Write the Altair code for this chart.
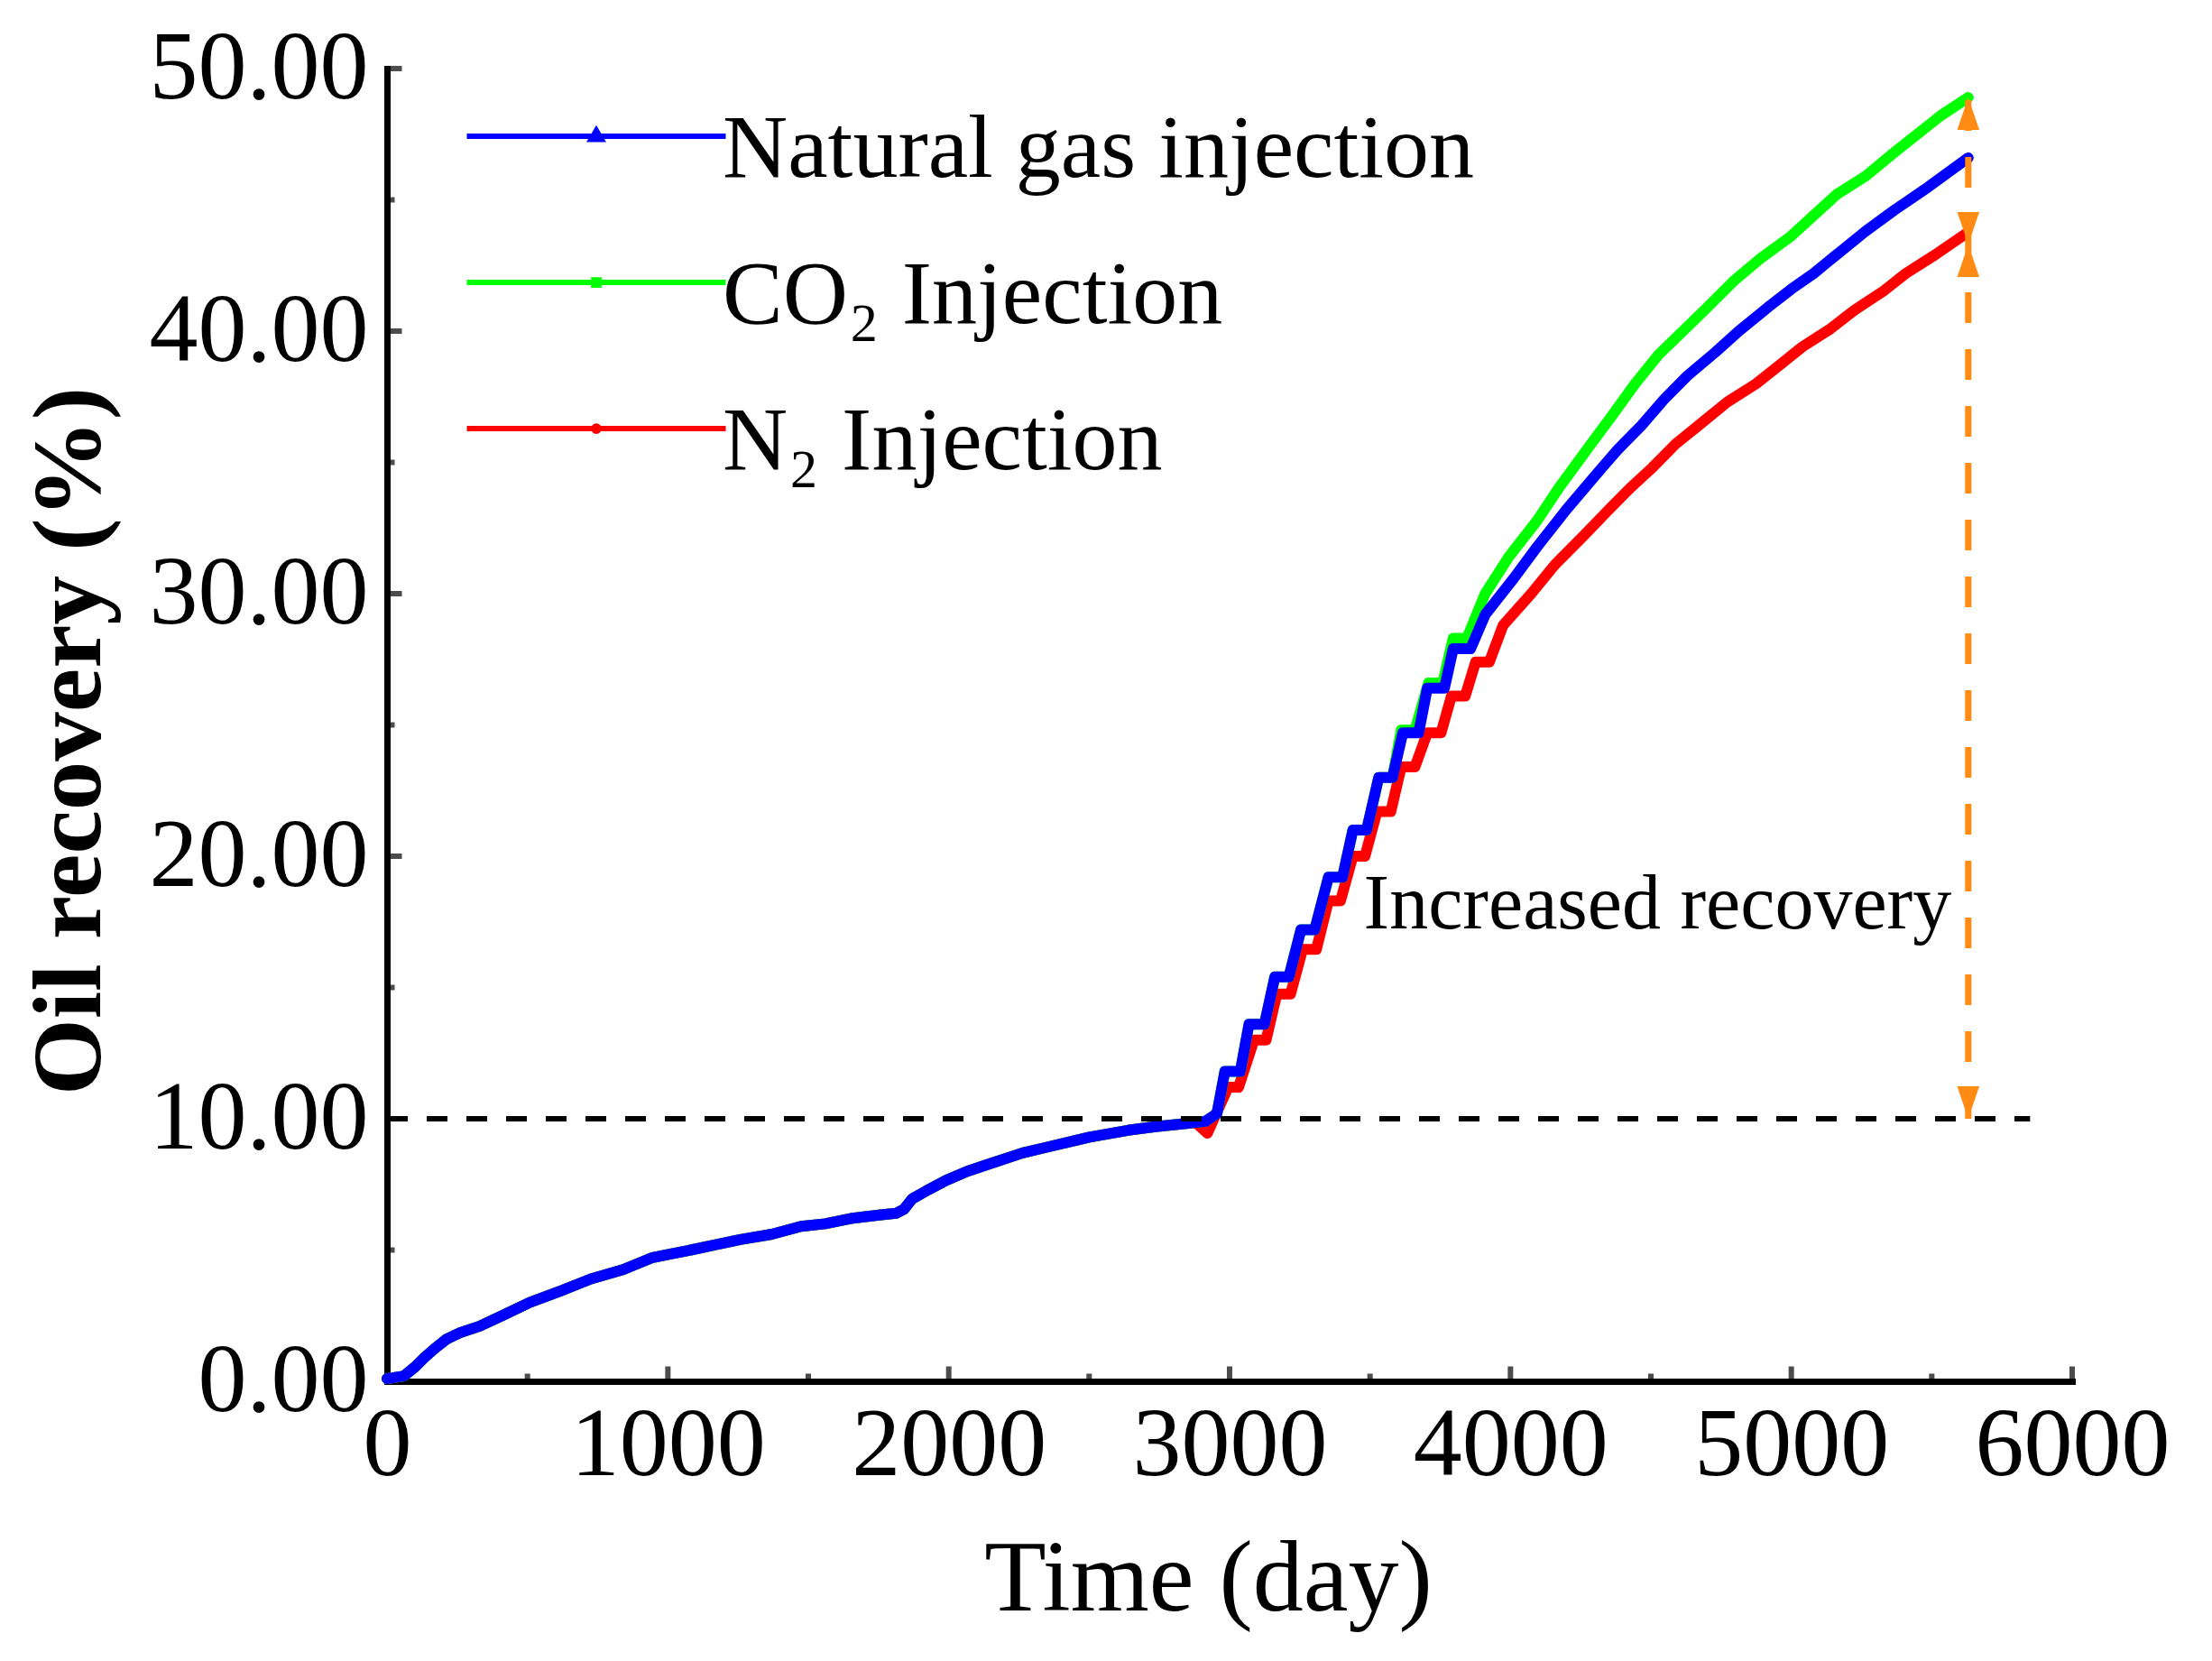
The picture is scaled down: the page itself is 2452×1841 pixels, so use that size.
import altair as alt
import pandas as pd

SERIF = "Liberation Serif"
ORANGE = "#ff8a14"

# ---------------- data ----------------
series_names = ["Natural gas injection", "CO\u2082 Injection", "N\u2082 Injection"]
series_colors = ["#0000ff", "#00ff00", "#ff0000"]

# primary-recovery part (identical for the three cases)
early_days = [0, 60, 100, 133, 170, 211, 260, 330, 420, 508, 620, 726, 840, 942,
              1010, 1081, 1170, 1258, 1370, 1474, 1560, 1651, 1751, 1812, 1840,
              1870, 1928, 1990, 2066, 2145, 2263, 2343, 2501, 2638, 2736, 2830]
early_vals = [0.1, 0.2, 0.55, 0.9, 1.25, 1.6, 1.85, 2.1, 2.55, 3.0, 3.45, 3.9, 4.25, 4.7,
              4.85, 5.0, 5.2, 5.4, 5.6, 5.9, 6.0, 6.2, 6.33, 6.4, 6.55,
              6.95, 7.3, 7.65, 8.0, 8.28, 8.7, 8.9, 9.3, 9.56, 9.7, 9.8]

gas_days = [2913, 2955, 2983, 3038, 3069, 3124, 3161, 3211, 3254, 3303, 3352, 3402,
            3439, 3488, 3531, 3580, 3617, 3673, 3704, 3765, 3796, 3858, 3910, 4013,
            4096, 4199, 4302, 4383, 4466, 4547, 4630, 4730, 4813, 4916, 5000, 5080,
            5183, 5264, 5366, 5489, 5630]
gas_vals = [9.9, 10.2, 11.8, 11.8, 13.6, 13.6, 15.4, 15.4, 17.2, 17.2, 19.2, 19.2,
            21.0, 21.0, 23.0, 23.0, 24.7, 24.7, 26.4, 26.4, 27.9, 27.9, 29.2, 30.6,
            31.8, 33.2, 34.5, 35.5, 36.4, 37.4, 38.3, 39.2, 40.0, 40.9, 41.6, 42.2,
            43.1, 43.8, 44.6, 45.5, 46.6]

co2_days = [2913, 2955, 2983, 3038, 3069, 3124, 3161, 3211, 3254, 3303, 3352, 3402,
            3439, 3488, 3531, 3580, 3611, 3660, 3708, 3759, 3796, 3845, 3910, 3994,
            4096, 4177, 4280, 4363, 4444, 4527, 4691, 4794, 4894, 4997, 5161, 5264,
            5366, 5531, 5630]
co2_vals = [9.9, 10.2, 11.8, 11.8, 13.6, 13.6, 15.4, 15.4, 17.2, 17.2, 19.2, 19.2,
            21.0, 21.0, 23.0, 23.0, 24.8, 24.8, 26.6, 26.6, 28.3, 28.3, 30.0, 31.4,
            32.8, 34.1, 35.6, 36.8, 38.0, 39.1, 40.8, 41.9, 42.8, 43.6, 45.2, 45.9,
            46.8, 48.2, 48.9]

n2_days = [2880, 2921, 2995, 3032, 3087, 3130, 3168, 3217, 3260, 3309, 3352, 3395,
           3439, 3482, 3525, 3574, 3611, 3660, 3704, 3753, 3790, 3839, 3876, 3925,
           3974, 4074, 4158, 4260, 4341, 4424, 4505, 4588, 4669, 4772, 4875, 4958,
           5039, 5141, 5225, 5325, 5408, 5511, 5620]
n2_vals = [9.85, 9.45, 11.2, 11.2, 13.0, 13.0, 14.75, 14.75, 16.45, 16.45, 18.3, 18.3,
           20.0, 20.0, 21.7, 21.7, 23.4, 23.4, 24.7, 24.7, 26.1, 26.1, 27.4, 27.4,
           28.8, 30.0, 31.1, 32.2, 33.1, 34.0, 34.8, 35.7, 36.4, 37.3, 38.0, 38.7,
           39.4, 40.1, 40.8, 41.5, 42.2, 42.9, 43.7]

x_major = [0, 1000, 2000, 3000, 4000, 5000, 6000]
x_minor = [500, 1500, 2500, 3500, 4500, 5500]
y_major = [0, 10, 20, 30, 40, 50]
y_minor = [5, 15, 25, 35, 45]

ref_level = [10]
ref_start = [0]
ref_end = [5850]

arrow_day = 5630
arrow_low = [10, 43.3]
arrow_high = [43.3, 48.9]
head_up_tips = [43.3, 48.9]
head_down_tips = [10, 43.3]

note_text = ["Increased recovery"]
note_day = [3477]
note_val = [17.25]

# ---------------- tables ----------------
rows = []
for name, d_tail, v_tail in [(series_names[0], gas_days, gas_vals),
                             (series_names[1], co2_days, co2_vals),
                             (series_names[2], n2_days, n2_vals)]:
    days = early_days + d_tail
    vals = early_vals + v_tail
    for i, (d, v) in enumerate(zip(days, vals)):
        rows.append({"series": name, "day": d, "rec": v, "i": i})
curves = pd.DataFrame(rows)

xt_major = pd.DataFrame({"t": x_major, "base": [0] * len(x_major)})
xt_minor = pd.DataFrame({"t": x_minor, "base": [0] * len(x_minor)})
yt_major = pd.DataFrame({"t": y_major, "base": [0] * len(y_major)})
yt_minor = pd.DataFrame({"t": y_minor, "base": [0] * len(y_minor)})
ref_df = pd.DataFrame({"x0": ref_start, "x1": ref_end, "level": ref_level})
arrow_df = pd.DataFrame({"x": [arrow_day] * 2, "y0": arrow_low, "y1": arrow_high})
up_df = pd.DataFrame({"x": [arrow_day] * len(head_up_tips), "y": head_up_tips})
down_df = pd.DataFrame({"x": [arrow_day] * len(head_down_tips), "y": head_down_tips})
note_df = pd.DataFrame({"label": note_text, "x": note_day, "y": note_val})

# ---------------- scales / axes ----------------
xscale = alt.Scale(domain=[0, 6000], nice=False, zero=False)
yscale = alt.Scale(domain=[0, 50], nice=False, zero=False)

xaxis = alt.Axis(values=x_major, format="d", ticks=False, grid=False,
                 domainColor="black", domainWidth=7, domainCap="square",
                 labelFont=SERIF, labelFontSize=108, labelColor="black", labelLimit=0,
                 labelPadding=18, labelFlush=False, labelOverlap=False,
                 title="Time (day)", titleFont=SERIF, titleFontSize=112,
                 titleFontWeight="normal", titleColor="black", titlePadding=40,
                 titleX=910, titleLimit=0)
yaxis = alt.Axis(values=y_major, format=".2f", ticks=False, grid=False,
                 domainColor="black", domainWidth=7, domainCap="square",
                 labelFont=SERIF, labelFontSize=108, labelColor="black", labelLimit=0,
                 labelPadding=21, labelOverlap=False,
                 title="Oil recovery (%)", titleFont=SERIF, titleFontSize=109,
                 titleFontWeight="bold", titleColor="black",
                 titleX=-296, titleY=745, titleLimit=0)


def X(f):
    return alt.X(f, type="quantitative", scale=xscale, axis=xaxis)


def Y(f):
    return alt.Y(f, type="quantitative", scale=yscale, axis=yaxis)


# legend symbols: a line with a small marker in its middle
LINE = "M-5,-0.52H5"
legend_shapes = [
    LINE + "M-0.2,-0.4L0.2,-0.4L0,-0.74Z",
    LINE + "M-0.1,-0.62H0.1V-0.42H-0.1Z",
    LINE + "M-0.1,-0.52A0.1,0.1,0,1,0,0.1,-0.52A0.1,0.1,0,1,0,-0.1,-0.52Z",
]

legend = alt.Legend(title=None, orient="none", legendX=182, legendY=40,
                    symbolType=LINE, symbolSize=3295, symbolStrokeWidth=6,
                    symbolOpacity=1,
                    labelFont=SERIF, labelFontSize=100, labelColor="black", labelLimit=0,
                    labelOffset=90, rowPadding=62, padding=0)

color_enc = alt.Color("series:N", scale=alt.Scale(domain=series_names, range=series_colors),
                      legend=legend)
shape_enc = alt.Shape("series:N", scale=alt.Scale(domain=series_names, range=legend_shapes),
                      legend=legend)

# ---------------- layers ----------------
tick_x_major = alt.Chart(xt_major).mark_tick(orient="vertical", size=17, thickness=6,
                                             color="black", yOffset=-8).encode(x=X("t"), y=Y("base"))
tick_x_minor = alt.Chart(xt_minor).mark_tick(orient="vertical", size=9, thickness=6,
                                             color="black", yOffset=-4).encode(x=X("t"), y=Y("base"))
tick_y_major = alt.Chart(yt_major).mark_tick(orient="horizontal", size=17, thickness=6,
                                             color="black", xOffset=8).encode(x=X("base"), y=Y("t"))
tick_y_minor = alt.Chart(yt_minor).mark_tick(orient="horizontal", size=9, thickness=6,
                                             color="black", xOffset=4).encode(x=X("base"), y=Y("t"))


def series_layer(name):
    return (alt.Chart(curves)
            .transform_filter(alt.datum.series == name)
            .mark_line(strokeWidth=12, strokeJoin="round", strokeCap="round")
            .encode(x=X("day"), y=Y("rec"), color=color_enc, order="i:Q"))


# invisible points that only carry the marker shapes into the legend
legend_carrier = (alt.Chart(curves).mark_point(opacity=0, strokeOpacity=0, fillOpacity=0)
                  .encode(x=X("day"), y=Y("rec"), color=color_enc, shape=shape_enc))

ref_line = alt.Chart(ref_df).mark_rule(color="black", strokeWidth=6, strokeDash=[23, 21]).encode(
    x=X("x0"), x2="x1", y=Y("level"))

arrow_lines = alt.Chart(arrow_df).mark_rule(color=ORANGE, strokeWidth=7, strokeDash=[34, 29]).encode(
    x=X("x"), y=Y("y0"), y2="y1")

heads_up = alt.Chart(up_df).mark_point(shape="M0,-1L0.68,1L-0.68,1Z", size=1300, filled=True,
                                       color=ORANGE, opacity=1, strokeWidth=0,
                                       yOffset=18).encode(x=X("x"), y=Y("y"))
heads_down = alt.Chart(down_df).mark_point(shape="M0,1L0.68,-1L-0.68,-1Z", size=1300, filled=True,
                                           color=ORANGE, opacity=1, strokeWidth=0,
                                           yOffset=-18).encode(x=X("x"), y=Y("y"))

note = alt.Chart(note_df).mark_text(align="left", baseline="alphabetic", font=SERIF,
                                    fontSize=86, color="black").encode(
    x=X("x"), y=Y("y"), text="label:N")

chart = alt.layer(
    tick_x_major, tick_x_minor, tick_y_major, tick_y_minor,
    series_layer(series_names[2]), series_layer(series_names[1]), series_layer(series_names[0]),
    legend_carrier,
    ref_line, arrow_lines, heads_up, heads_down, note
).properties(
    width=1868, height=1455,
    padding={"left": 15, "top": 14, "right": 5, "bottom": 5}
).configure(background="white").configure_view(stroke="transparent", strokeWidth=0)

chart.save("out.html", embed_options={"renderer": "svg", "actions": False})
